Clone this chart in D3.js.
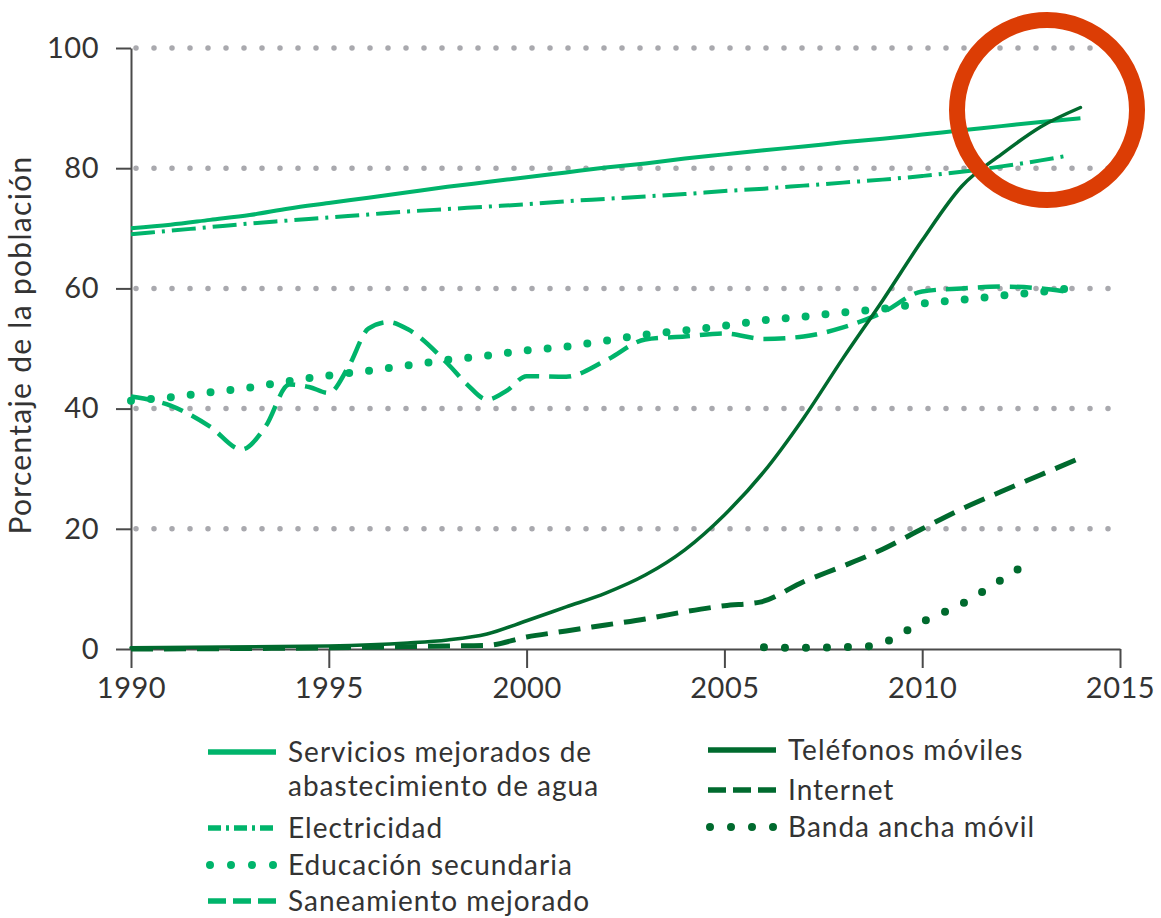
<!DOCTYPE html>
<html>
<head>
<meta charset="utf-8">
<script src="https://cdn.jsdelivr.net/npm/d3@7"></script>
<style>
  body { margin: 0; background: #fff; }
  svg { display: block; font-family: Lato, "Noto Sans", sans-serif; }
  .axis path, .axis line { stroke: #4a4a4a; stroke-width: 2; }
  .axis text { fill: #333; font-size: 29px; font-family: Lato, sans-serif; letter-spacing: 0.5px; }
  .legend text { fill: #333; font-size: 28px; letter-spacing: 1px; }
</style>
</head>
<body>
<svg id="chart" width="1161" height="918"></svg>
<script>
// ---- data ----
var yTicks = [0, 20, 40, 60, 80, 100];
var xTicks = [1990, 1995, 2000, 2005, 2010, 2015];

var waterYears = [1990,1991,1992,1993,1994,1995,1996,1997,1998,1999,2000,2001,2002,2003,2004,2005,2006,2007,2008,2009,2010,2011,2012,2013,2014];
var waterValues = [70.0,70.6,71.4,72.2,73.3,74.2,75.1,76.0,76.9,77.7,78.5,79.3,80.1,80.8,81.6,82.3,83.0,83.6,84.3,84.9,85.6,86.3,87.0,87.7,88.3];

var elecYears = [1990,1991,1992,1993,1994,1995,1996,1997,1998,1999,2000,2001,2002,2003,2004,2005,2006,2007,2008,2009,2010,2011,2012,2013,2013.6];
var elecValues = [69.0,69.6,70.2,70.8,71.3,71.8,72.3,72.8,73.2,73.6,74.0,74.5,74.9,75.3,75.7,76.2,76.6,77.1,77.6,78.1,78.7,79.4,80.3,81.3,82.0];

var eduYears = [1990,1991,1992,1993,1994,1995,1996,1997,1998,1999,2000,2001,2002,2003,2004,2005,2006,2007,2008,2009,2010,2011,2012,2013,2013.6];
var eduValues = [41.3,41.9,42.7,43.5,44.6,45.5,46.3,47.2,48.1,48.8,49.7,50.3,51.3,52.3,53.0,53.8,54.7,55.3,56.0,56.6,57.5,58.1,58.8,59.4,59.9];

var sanYears = [1990,1991,1992,1992.8,1993.4,1994,1994.5,1995,1995.5,1996,1996.5,1997,1998,1998.5,1999,1999.5,2000,2001,2002,2003,2004,2005,2006,2007,2008,2009,2010,2011,2012,2013,2013.6];
var sanValues = [42.0,40.5,37.0,33.2,37.0,44.0,43.6,42.6,47.0,53.3,54.4,53.2,47.5,44.0,41.5,43.0,45.4,45.3,48.0,51.5,52.0,52.5,51.6,52.0,53.5,56.0,59.5,60.0,60.3,60.0,59.5];

var phoneYears = [1990,1995,1997,1998,1999,2000,2001,2002,2003,2004,2005,2006,2007,2008,2009,2010,2011,2012,2013,2014];
var phoneValues = [0.2,0.5,1.0,1.5,2.5,4.7,7.0,9.3,12.3,16.5,22.3,29.5,38.4,48.4,58.0,68.0,77.0,82.3,86.9,90.1];

var netYears = [1990,1995,1998,1999,2000,2001,2002,2003,2004,2005,2005.9,2007,2008,2009,2010,2011,2012,2013,2014];
var netValues = [0.0,0.2,0.5,0.6,2.0,3.0,4.0,5.0,6.2,7.2,7.8,11.2,13.8,16.6,20.0,23.3,26.2,29.0,31.8];

var mbbYears = [2006,2007,2008,2008.7,2009,2010,2011,2012,2012.6];
var mbbValues = [0.3,0.2,0.3,0.5,1.0,4.5,7.5,11.5,14.0];

var yTitle = "Porcentaje de la población";

// ---- styles ----
var light = "#00b46b", dark = "#006a2e";
var styles = {
  water: { color: light, width: 4, dash: null, cap: "butt", curve: d3.curveMonotoneX },
  elec:  { color: light, width: 4, dash: "24,7,3,7", cap: "butt", curve: d3.curveMonotoneX },
  edu:   { color: light, width: 8, dash: "0,20", cap: "round", curve: d3.curveMonotoneX },
  san:   { color: light, width: 4.5, dash: "22,10", cap: "butt", curve: d3.curveMonotoneX },
  phone: { color: dark, width: 3.5, dash: null, cap: "round", curve: d3.curveMonotoneX },
  net:   { color: dark, width: 5, dash: "22,11", cap: "butt", curve: d3.curveMonotoneX },
  mbb:   { color: dark, width: 8, dash: "0,21", cap: "round", curve: d3.curveMonotoneX }
};

var series = [
  { key: "water", years: waterYears, values: waterValues },
  { key: "elec", years: elecYears, values: elecValues },
  { key: "edu", years: eduYears, values: eduValues },
  { key: "san", years: sanYears, values: sanValues },
  { key: "net", years: netYears, values: netValues },
  { key: "mbb", years: mbbYears, values: mbbValues },
  { key: "phone", years: phoneYears, values: phoneValues }
];

var svg = d3.select("#chart");

var x = d3.scaleLinear().domain([1990, 2015]).range([131, 1120]);
var y = d3.scaleLinear().domain([0, 100]).range([649, 48]);

// grid (dotted gray), not at zero
svg.append("g").selectAll("line")
   .data(yTicks.filter(function(d) { return d > 0; }))
   .enter().append("line")
   .attr("x1", x(1990) + 5).attr("x2", x(2015))
   .attr("y1", function(d) { return y(d); })
   .attr("y2", function(d) { return y(d); })
   .attr("stroke", "#a9a9ae")
   .attr("stroke-width", 5.5)
   .attr("stroke-linecap", "round")
   .attr("stroke-dasharray", "0,18");

// axes
svg.append("g")
   .attr("class", "axis")
   .attr("transform", "translate(" + x(1990) + ",0)")
   .call(d3.axisLeft(y).tickValues(yTicks).tickSize(15).tickSizeOuter(0).tickPadding(17));

svg.append("g")
   .attr("class", "axis")
   .attr("transform", "translate(0," + y(0) + ")")
   .call(d3.axisBottom(x).tickValues(xTicks).tickFormat(d3.format("d")).tickSize(19).tickSizeOuter(0).tickPadding(9));

svg.selectAll(".axis .domain").attr("fill", "none");

// y title
svg.append("text")
   .attr("transform", "translate(31,345) rotate(-90)")
   .attr("text-anchor", "middle")
   .attr("fill", "#333")
   .style("font-size", "30px")
   .style("letter-spacing", "1.3px")
   .text(yTitle);

// data lines
series.forEach(function(s) {
  var st = styles[s.key];
  var pts = s.years.map(function(yr, i) { return [yr, s.values[i]]; });
  var line = d3.line()
               .x(function(d) { return x(d[0]); })
               .y(function(d) { return y(d[1]); })
               .curve(st.curve);
  svg.append("path")
     .datum(pts)
     .attr("d", line)
     .attr("fill", "none")
     .attr("stroke", st.color)
     .attr("stroke-width", st.width)
     .attr("stroke-linecap", st.cap)
     .attr("stroke-linejoin", "round")
     .attr("stroke-dasharray", st.dash);
});

// legend
var legendLeft = [
  { key: "water", lines: ["Servicios mejorados de", "abastecimiento de agua"], y: 752 },
  { key: "elec", lines: ["Electricidad"], y: 828 },
  { key: "edu", lines: ["Educación secundaria"], y: 865 },
  { key: "san", lines: ["Saneamiento mejorado"], y: 901 }
];
var legendRight = [
  { key: "phone", lines: ["Teléfonos móviles"], y: 750 },
  { key: "net", lines: ["Internet"], y: 790 },
  { key: "mbb", lines: ["Banda ancha móvil"], y: 827 }
];
var legendDash = { water: null, elec: "13,5,3,5", edu: "0,21", san: "18,7", phone: null, net: "18,7", mbb: "0,21" };

function drawLegend(items, x0) {
  var g = svg.append("g").attr("class", "legend");
  items.forEach(function(it) {
    var st = styles[it.key];
    var dotted = st.cap === "round" && legendDash[it.key];
    g.append("line")
     .attr("x1", dotted ? x0 + 2 : x0).attr("x2", x0 + 68)
     .attr("y1", it.y).attr("y2", it.y)
     .attr("stroke", st.color)
     .attr("stroke-width", dotted ? 8 : 5.5)
     .attr("stroke-linecap", dotted ? "round" : "butt")
     .attr("stroke-dasharray", legendDash[it.key]);
    it.lines.forEach(function(t, i) {
      g.append("text")
       .attr("x", x0 + 80)
       .attr("y", it.y + 10 + i * 34)
       .text(t);
    });
  });
}
drawLegend(legendLeft, 208);
drawLegend(legendRight, 708);

// red highlight ring
svg.append("circle")
   .attr("cx", 1047).attr("cy", 110).attr("r", 90)
   .attr("fill", "none")
   .attr("stroke", "#dc3d05")
   .attr("stroke-width", 16);
</script>
</body>
</html>
